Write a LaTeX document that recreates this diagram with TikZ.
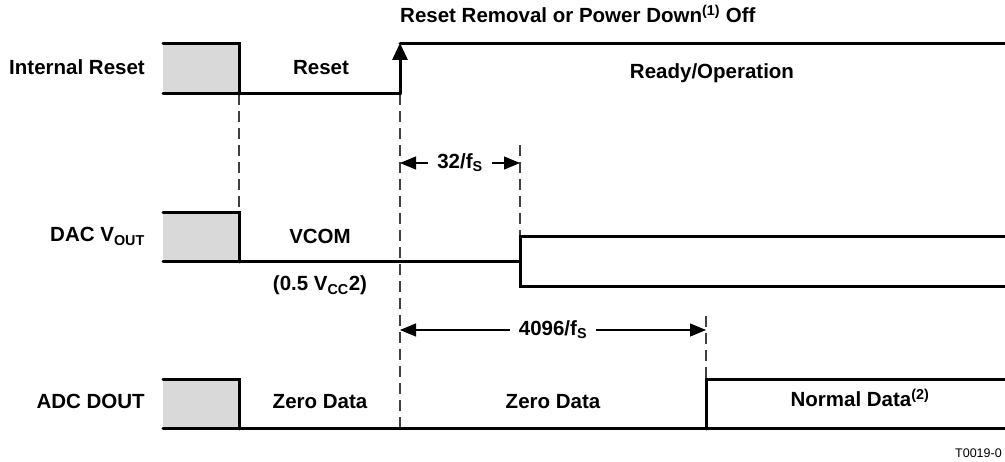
\documentclass[tikz,border=0pt]{standalone}
\usepackage{fontspec}
\setmainfont{Liberation Sans}
\usetikzlibrary{arrows.meta}
\definecolor{idle}{HTML}{D9D9D9}

\begin{document}
\begin{tikzpicture}[x=1pt, y=-1pt,
  sig/.style={line width=3pt, line cap=round},
  guide/.style={line width=1.1pt, black!75, dash pattern=on 11pt off 6pt},
  dim/.style={line width=1.1pt, {Triangle[length=16pt,width=13pt]}-{Triangle[length=16pt,width=13pt]}},
  lbl/.style={font=\fontsize{20.5}{24}\selectfont\bfseries, inner sep=0pt},
  gap/.style={lbl, fill=white, inner xsep=9pt, inner ysep=1pt}]
\useasboundingbox (0,0) rectangle (1005,462);
% undefined state before reset
\foreach \hi/\lo in {44/94, 213/262, 380/429}
  \fill[idle] (163,\hi) rectangle (239,\lo);
% guide lines
\draw[guide] (239,94) -- (239,213);
\draw[guide] (400,94) -- (400,429);
\draw[guide] (520,145) -- (520,237);
\draw[guide] (706,316) -- (706,380);
% internal reset
\draw[sig] (163,44) -- (239,44) -- (239,94);
\draw[sig] (163,94) -- (400,94);
\draw[sig, -{Triangle[length=17pt,width=15pt]}] (400,94) -- (400,43);
\draw[sig] (400,44) -- (1005,44);
% DAC output
\draw[sig] (163,213) -- (239,213) -- (239,262);
\draw[sig] (163,262) -- (520,262);
\draw[sig] (1005,237) -- (520,237) -- (520,287) -- (1005,287);
% ADC output
\draw[sig] (163,380) -- (239,380) -- (239,429);
\draw[sig] (163,429) -- (1005,429);
\draw[sig] (706,429) -- (706,380) -- (1005,380);
% timing intervals
\coordinate (d32l) at (400,163);
\coordinate (d32r) at (520,163);
\coordinate (d4kl) at (400,330);
\coordinate (d4kr) at (706,330);
\draw[dim] (d32l) -- (d32r) node[gap, midway] (n32) {32/f\textsubscript{S}};
\draw[dim] (d4kl) -- (d4kr) node[gap, midway] (n4k) {4096/f\textsubscript{S}};
% labels
\node[lbl, anchor=base east] (ir) at (145,75) {Internal Reset};
\node[lbl, anchor=base east] (dac) at (145,242) {DAC V\textsubscript{OUT}};
\node[lbl, anchor=base east] (adc) at (145,409) {ADC DOUT};
\node[lbl, anchor=base west] (off) at (400,23) {Reset Removal or Power Down\textsuperscript{(1)} Off};
\node[lbl, anchor=base] (rst) at (321,75) {Reset};
\node[lbl, anchor=base] (rdy) at (712,79) {Ready/Operation};
\node[lbl, anchor=base] (vcom) at (320,244) {VCOM};
\node[lbl, anchor=base] (vcc) at (320,291) {(0.5 V\textsubscript{CC}2)};
\node[lbl, anchor=base] (zd1) at (320,409) {Zero Data};
\node[lbl, anchor=base] (zd2) at (553,409) {Zero Data};
\node[lbl, anchor=base] (nd) at (860,407) {Normal Data\textsuperscript{(2)}};
\node[font=\fontsize{12.5}{15}\selectfont, inner sep=0pt, anchor=base west] (tag) at (955,458) {T0019-0};
\end{tikzpicture}
\end{document}
